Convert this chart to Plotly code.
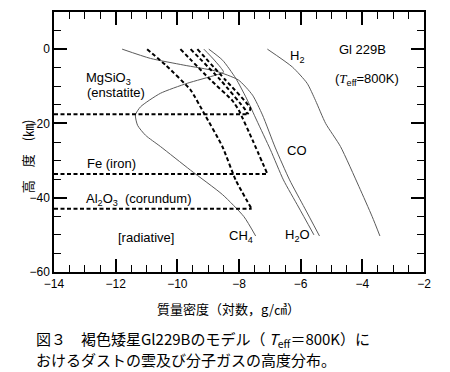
import plotly.graph_objects as go

# ---- gas density profiles (log g/cm^3 vs height km) ----
h2_x = [-7.08, -6.27, -5.79, -5.52, -5.19, -4.71, -4.11, -3.68, -3.43]
h2_y = [0, -4.8, -9.2, -13.8, -20.0, -26.2, -37.0, -45.1, -50.3]

h2o_x = [-8.98, -8.53, -8.11, -7.76, -7.43, -6.98, -6.56, -6.07, -5.57]
h2o_y = [0, -3.0, -7.8, -13.2, -19.1, -27.1, -35.2, -42.5, -50.0]

co_x = [-11.79, -10.87, -9.79, -8.76, -8.02, -7.56, -7.24, -6.82, -6.36, -5.87, -5.39]
co_y = [0, -2.5, -4.3, -5.9, -8.3, -12.4, -17.7, -26.6, -35.2, -42.8, -50.3]

ch4_x = [-9.14, -8.86, -8.60, -8.50, -8.76, -9.68, -10.55, -11.19, -11.36, -11.29,
         -11.03, -10.55, -9.57, -8.53, -7.84, -7.46]
ch4_y = [0, -2.4, -4.9, -6.2, -7.0, -9.2, -11.9, -15.5, -17.7, -20.5,
         -23.2, -26.2, -32.6, -39.2, -45.1, -50.3]

# ---- dust clouds ----
al2o3_x = [-10.98, -10.38, -9.57, -9.14, -8.54, -8.11, -7.59]
al2o3_y = [0, -4.3, -11.0, -17.2, -26.2, -35.2, -43.0]
al2o3_base = -43.0

fe_x = [-9.90, -8.92, -8.22, -8.01, -7.56, -7.08]
fe_y = [0, -8.3, -13.8, -16.4, -24.5, -33.6]
fe_base = -33.6

mgsio3_x = [-9.57, -8.60, -7.79, -7.73]
mgsio3_y = [0, -8.3, -16.4, -17.5]
mgsio3_b_x = [-9.35, -8.44, -7.63, -7.73]
mgsio3_b_y = [0, -8.3, -16.0, -17.5]
mgsio3_base = -17.5

x_min, x_max = -14, -2
y_min, y_max = -60, 10

fig = go.Figure()

gas_color = "#5a5a5a"
for xs, ys in [(h2_x, h2_y), (h2o_x, h2o_y), (co_x, co_y), (ch4_x, ch4_y)]:
    fig.add_trace(go.Scatter(x=xs, y=ys, mode="lines",
                             line=dict(color=gas_color, width=1, shape="spline", smoothing=0.6),
                             showlegend=False, hoverinfo="skip"))

dash = "4px,2.5px"
for xs, ys in [(al2o3_x, al2o3_y), (fe_x, fe_y), (mgsio3_x, mgsio3_y), (mgsio3_b_x, mgsio3_b_y)]:
    fig.add_trace(go.Scatter(x=xs, y=ys, mode="lines",
                             line=dict(color="black", width=2, dash=dash, shape="spline", smoothing=0.5),
                             showlegend=False, hoverinfo="skip"))

for xe, base in [(al2o3_x[-1], al2o3_base), (fe_x[-1], fe_base), (mgsio3_x[-1], mgsio3_base)]:
    fig.add_trace(go.Scatter(x=[x_min, xe], y=[base, base], mode="lines",
                             line=dict(color="black", width=2, dash=dash),
                             showlegend=False, hoverinfo="skip"))

lab_font = dict(family="Liberation Sans, Arial", size=13, color="black")

def ann(text, x, y, xanchor="left", **kw):
    fig.add_annotation(text=text, x=x, y=y, xref="x", yref="y", showarrow=False,
                       xanchor=xanchor, yanchor="middle", font=kw.pop("font", lab_font), **kw)

ann("MgSiO<sub>3</sub>", -13.04, -7.8)
ann("(enstatite)", -12.98, -11.8)
ann("Fe (iron)", -12.98, -30.9)
ann("Al<sub>2</sub>O<sub>3</sub>  (corundum)", -13.04, -40.4)
ann("[radiative]", -12.0, -50.6)
ann("CH<sub>4</sub>", -7.92, -50.5, xanchor="center")
ann("H<sub>2</sub>O", -6.11, -50.3, xanchor="center")
ann("CO", -6.11, -27.2, xanchor="center")
ann("H<sub>2</sub>", -6.12, -2.1, xanchor="center")
ann("Gl 229B", -3.98, 0.0, xanchor="center")
ann("(<span style='font-family:Liberation Serif'><i>T</i></span><sub>eff</sub>=800K)", -3.85, -8.3, xanchor="center")

# axis titles
fig.add_annotation(text="高　度　(㎞)", x=-0.104, y=0.445, xref="paper", yref="paper",
                   showarrow=False, textangle=-90,
                   font=dict(family="Noto Sans CJK JP", size=13, color="black"))
fig.add_annotation(text="質量密度（対数，g/㎤）", x=0.472, y=-0.142, xref="paper", yref="paper",
                   showarrow=False, xanchor="center", yanchor="middle",
                   font=dict(family="Noto Sans CJK JP", size=13, color="black"))

cap_font = dict(family="Noto Sans CJK JP", size=15, color="black")
fig.add_annotation(text="図３　褐色矮星Gl229Bのモデル（ <i>T</i><sub>eff</sub>＝800K）に",
                   x=-0.0553, y=-0.261, xref="paper", yref="paper", showarrow=False,
                   xanchor="left", yanchor="middle", font=cap_font)
fig.add_annotation(text="おけるダストの雲及び分子ガスの高度分布。",
                   x=-0.0553, y=-0.338, xref="paper", yref="paper", showarrow=False,
                   xanchor="left", yanchor="middle", font=cap_font)

axis_common = dict(showline=True, linecolor="black", linewidth=1.5, mirror="ticks",
                   ticks="inside", tickcolor="black", tickwidth=1.5, ticklen=13,
                   showgrid=False, zeroline=False,
                   tickfont=dict(family="Liberation Sans, Arial", size=12, color="black"))

fig.update_xaxes(range=[x_min, x_max], dtick=2, tick0=-14,
                 minor=dict(dtick=0.5, ticks="inside", ticklen=7, tickcolor="black", tickwidth=1, showgrid=False),
                 **axis_common)
fig.update_yaxes(range=[y_min, y_max], dtick=20, tick0=0,
                 minor=dict(dtick=5, ticks="inside", ticklen=7, tickcolor="black", tickwidth=1, showgrid=False),
                 **axis_common)

# page body has an 8px margin: shrink the figure so the plot area lands where the reference has it
fig.update_layout(width=442, height=364, margin=dict(l=45.5, r=26, t=3.5, b=100, autoexpand=False),
                  paper_bgcolor="white", plot_bgcolor="white", showlegend=False)

fig.write_html("out.html")
